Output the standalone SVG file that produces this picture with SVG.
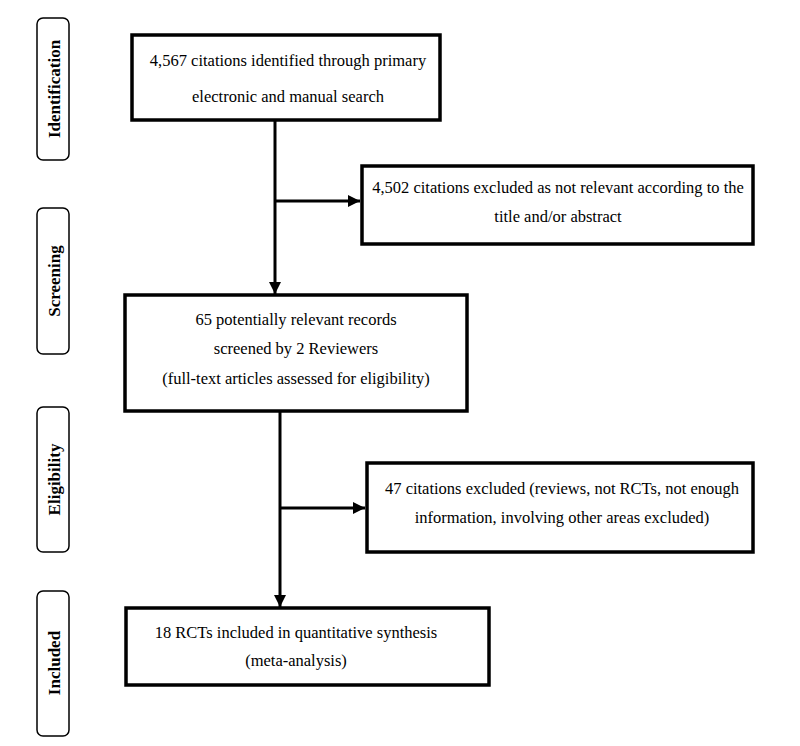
<svg xmlns="http://www.w3.org/2000/svg" width="800" height="746" viewBox="0 0 800 746">
<style>
.bg{fill:#fff}
.box{fill:#fff;stroke:#000;stroke-width:3.5}
.side{fill:#fff;stroke:#000;stroke-width:1.5}
.t{font-family:"Liberation Serif","Times New Roman",serif;font-size:16.5px;fill:#000;text-anchor:middle}
.st{font-family:"Liberation Serif","Times New Roman",serif;font-size:17px;font-weight:bold;fill:#000;text-anchor:middle;dominant-baseline:central}
.ln{fill:none;stroke:#000;stroke-width:3}
</style>
<defs>
<marker id="ah" viewBox="0 0 10 10" refX="10" refY="5" markerWidth="4" markerHeight="4" markerUnits="strokeWidth" orient="auto">
<path d="M0,0 L10,5 L0,10 z" fill="#000"/>
</marker>
</defs>
<rect class="bg" x="0" y="0" width="800" height="746"/>
<g id="side-identification">
<rect class="side" x="37" y="18" width="32" height="142" rx="6"/>
<text class="st" transform="translate(54,89) rotate(-90)">Identification</text>
</g>
<g id="side-screening">
<rect class="side" x="37" y="208" width="32" height="146" rx="6"/>
<text class="st" transform="translate(54,281) rotate(-90)">Screening</text>
</g>
<g id="side-eligibility">
<rect class="side" x="37" y="407" width="32" height="145" rx="6"/>
<text class="st" transform="translate(54,479.5) rotate(-90)">Eligibility</text>
</g>
<g id="side-included">
<rect class="side" x="37" y="591" width="32" height="145" rx="6"/>
<text class="st" transform="translate(54,663) rotate(-90)">Included</text>
</g>
<g id="connectors">
<line class="ln" x1="275" y1="120" x2="275" y2="294" marker-end="url(#ah)"/>
<line class="ln" x1="275" y1="201" x2="360" y2="201" marker-end="url(#ah)"/>
<line class="ln" x1="280" y1="411" x2="280" y2="607" marker-end="url(#ah)"/>
<line class="ln" x1="280" y1="508" x2="365" y2="508" marker-end="url(#ah)"/>
</g>
<g id="n1">
<rect class="box" x="132" y="35" width="308" height="85"/>
<text class="t" x="288" y="66">4,567 citations identified through primary</text>
<text class="t" x="288" y="102">electronic and manual search</text>
</g>
<g id="n2">
<rect class="box" x="362" y="166" width="391" height="78"/>
<text class="t" x="558" y="193">4,502 citations excluded as not relevant according to the</text>
<text class="t" x="558" y="222">title and/or abstract</text>
</g>
<g id="n3">
<rect class="box" x="125" y="295" width="342" height="116"/>
<text class="t" x="296" y="325">65 potentially relevant records</text>
<text class="t" x="296" y="354">screened by 2 Reviewers</text>
<text class="t" x="296" y="384">(full-text articles assessed for eligibility)</text>
</g>
<g id="n4">
<rect class="box" x="367" y="463" width="386" height="89"/>
<text class="t" x="562" y="494">47 citations excluded (reviews, not RCTs, not enough</text>
<text class="t" x="562" y="523">information, involving other areas excluded)</text>
</g>
<g id="n5">
<rect class="box" x="126" y="608" width="363" height="77"/>
<text class="t" x="296" y="638">18 RCTs included in quantitative synthesis</text>
<text class="t" x="296" y="666">(meta-analysis)</text>
</g>
</svg>
